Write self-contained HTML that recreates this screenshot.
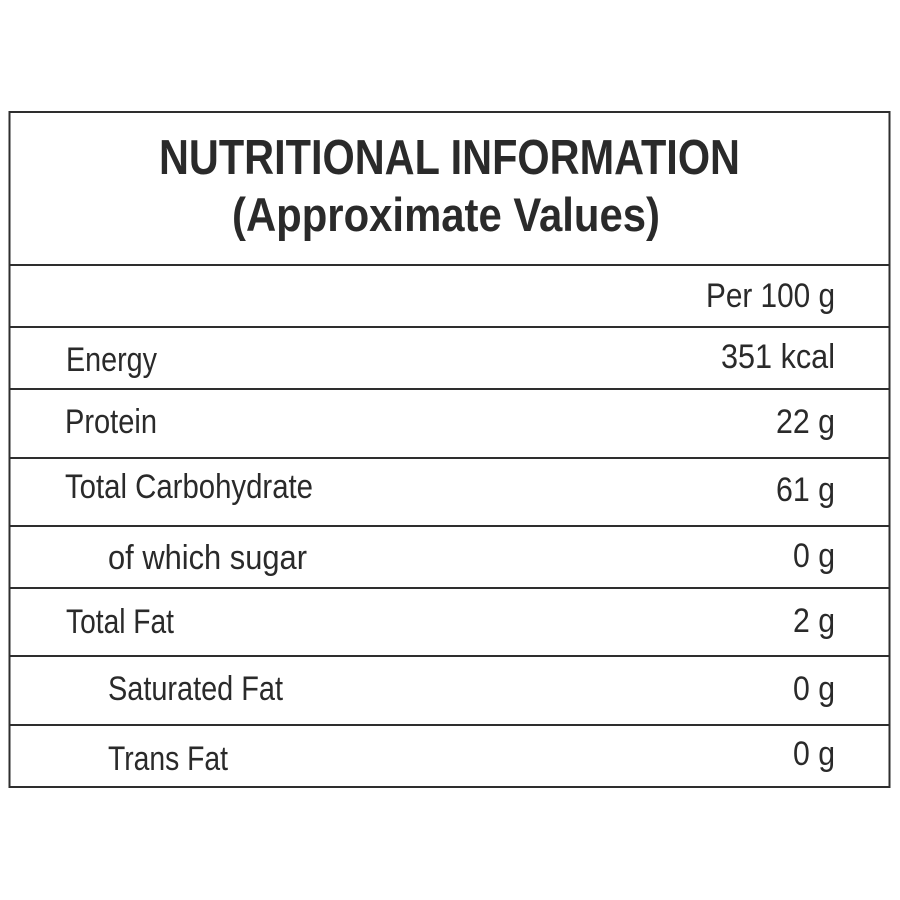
<!DOCTYPE html>
<html>
<head>
<meta charset="utf-8">
<style>
  html, body { margin: 0; padding: 0; background: #ffffff; }
  svg { display: block; }
  text { font-family: "Liberation Sans", Arial, sans-serif; fill: #2a2a2a; }
  .t { font-weight: bold; }
  .b { font-size: 34px; }
</style>
</head>
<body>
<svg width="900" height="900" viewBox="0 0 900 900" xmlns="http://www.w3.org/2000/svg">
  <rect x="0" y="0" width="900" height="900" fill="#ffffff"/>
  <g stroke="#2e2e2e" stroke-width="2" fill="none">
    <rect x="9.5" y="112" width="880" height="675"/>
    <line x1="9.5" y1="265" x2="889.5" y2="265"/>
    <line x1="9.5" y1="327" x2="889.5" y2="327"/>
    <line x1="9.5" y1="389" x2="889.5" y2="389"/>
    <line x1="9.5" y1="458" x2="889.5" y2="458"/>
    <line x1="9.5" y1="526" x2="889.5" y2="526"/>
    <line x1="9.5" y1="588" x2="889.5" y2="588"/>
    <line x1="9.5" y1="656" x2="889.5" y2="656"/>
    <line x1="9.5" y1="725" x2="889.5" y2="725"/>
  </g>

  <text class="t" x="159" y="174" font-size="49" textLength="581" lengthAdjust="spacingAndGlyphs">NUTRITIONAL INFORMATION</text>
  <text class="t" x="232" y="231" font-size="47" textLength="428" lengthAdjust="spacingAndGlyphs">(Approximate Values)</text>

  <text class="b" x="706" y="307" textLength="129" lengthAdjust="spacingAndGlyphs">Per 100 g</text>

  <text class="b" x="66" y="371" textLength="91" lengthAdjust="spacingAndGlyphs">Energy</text>
  <text class="b" x="721" y="368" textLength="114" lengthAdjust="spacingAndGlyphs">351 kcal</text>

  <text class="b" x="65" y="433" textLength="92" lengthAdjust="spacingAndGlyphs">Protein</text>
  <text class="b" x="776" y="433" textLength="59" lengthAdjust="spacingAndGlyphs">22 g</text>

  <text class="b" x="65" y="498" textLength="248" lengthAdjust="spacingAndGlyphs">Total Carbohydrate</text>
  <text class="b" x="776" y="501" textLength="59" lengthAdjust="spacingAndGlyphs">61 g</text>

  <text class="b" x="108" y="569" textLength="199" lengthAdjust="spacingAndGlyphs">of which sugar</text>
  <text class="b" x="793" y="567" textLength="42" lengthAdjust="spacingAndGlyphs">0 g</text>

  <text class="b" x="66" y="633" textLength="108" lengthAdjust="spacingAndGlyphs">Total Fat</text>
  <text class="b" x="793" y="632" textLength="42" lengthAdjust="spacingAndGlyphs">2 g</text>

  <text class="b" x="108" y="700" textLength="175" lengthAdjust="spacingAndGlyphs">Saturated Fat</text>
  <text class="b" x="793" y="700" textLength="42" lengthAdjust="spacingAndGlyphs">0 g</text>

  <text class="b" x="108" y="770" textLength="120" lengthAdjust="spacingAndGlyphs">Trans Fat</text>
  <text class="b" x="793" y="765" textLength="42" lengthAdjust="spacingAndGlyphs">0 g</text>
</svg>
</body>
</html>
